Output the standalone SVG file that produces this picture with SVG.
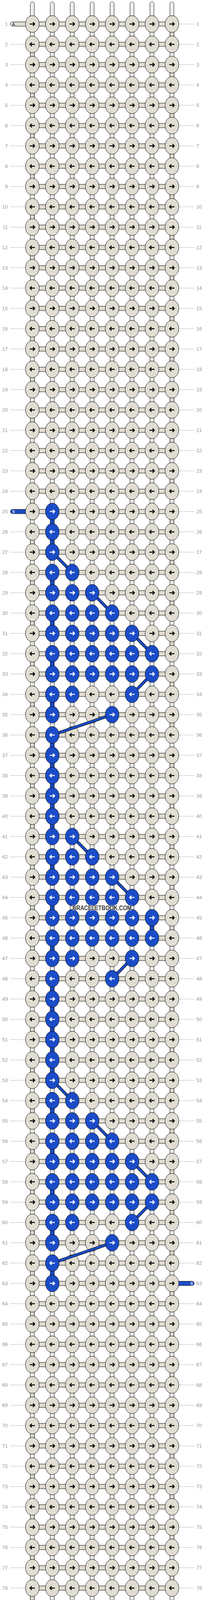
<svg xmlns="http://www.w3.org/2000/svg" xmlns:xlink="http://www.w3.org/1999/xlink" width="532" height="4596" viewBox="0 0 532 4596">
<style>
.kn{fill:#e1ddd3;stroke:#000;stroke-width:1}
.kb{fill:#1b4cc8;stroke:#000;stroke-width:1}
.ar{fill:none;stroke:#000;stroke-width:2.5}
.aw{fill:none;stroke:#fff;stroke-width:2.5}
.hc{fill:#e1ddd3;stroke:#000;stroke-width:1}
.bc{fill:#1b4cc8;stroke:#000;stroke-width:1}
.tube{fill:#fff;stroke:#000;stroke-width:1}
.core{fill:none;stroke:#b0b0b0;stroke-width:0.7}
.lb{font-family:"Liberation Sans",Arial,sans-serif;font-size:13px;fill:#9a9a9a}
.e{text-anchor:end}
.dgo{stroke:#000;stroke-width:7.5;fill:none}
.dgi{stroke:#1b4cc8;stroke-width:5.5;fill:none}
.tag{font-family:"Liberation Sans",Arial,sans-serif;font-size:10px}
.wm{font-family:"Liberation Sans",Arial,sans-serif;font-size:17px;font-weight:bold;fill:#3a3a3a;stroke:#fff;stroke-opacity:0.6;stroke-width:2.5;paint-order:stroke}
</style>
<defs>
<pattern id="gp" patternUnits="userSpaceOnUse" x="0" y="61" width="600" height="52"><rect width="600" height="1" fill="#bcbcbc"/></pattern>
<rect id="h" x="82.7" y="-5.5" width="357" height="11" class="hc"/>
<rect id="tr" x="434.7" y="0" width="10" height="52" class="hc"/>
<rect id="tl" x="77.7" y="0" width="10" height="52" class="hc"/>
<rect id="tb" x="128.7" y="0" width="10" height="52" class="bc"/>
<g id="R"><ellipse rx="17.5" ry="21.5" class="kn"/><path d="M-6.5,0H5.5M1.5,-4.5L6,0L1.5,4.5" class="ar"/></g>
<g id="L"><ellipse rx="17.5" ry="21.5" class="kn"/><path d="M6.5,0H-5.5M-1.5,-4.5L-6,0L-1.5,4.5" class="ar"/></g>
<g id="BR"><ellipse rx="17.5" ry="21.5" class="kb"/><path d="M-6.5,0H5.5M1.5,-4.5L6,0L1.5,4.5" class="aw"/></g>
<g id="BL"><ellipse rx="17.5" ry="21.5" class="kb"/><path d="M6.5,0H-5.5M-1.5,-4.5L-6,0L-1.5,4.5" class="aw"/></g>
</defs>
<rect width="532" height="4596" fill="#fff"/>
<g id="guides">
<rect x="26" y="55" width="39" height="4485" fill="url(#gp)"/>
<rect x="458" y="55" width="39" height="4485" fill="url(#gp)"/>
</g>
<g id="labels" class="lb">
<text x="20" y="66" class="e">1</text><text x="502" y="66">1</text>
<text x="20" y="118" class="e">2</text><text x="502" y="118">2</text>
<text x="20" y="170" class="e">3</text><text x="502" y="170">3</text>
<text x="20" y="222" class="e">4</text><text x="502" y="222">4</text>
<text x="20" y="274" class="e">5</text><text x="502" y="274">5</text>
<text x="20" y="326" class="e">6</text><text x="502" y="326">6</text>
<text x="20" y="378" class="e">7</text><text x="502" y="378">7</text>
<text x="20" y="430" class="e">8</text><text x="502" y="430">8</text>
<text x="20" y="482" class="e">9</text><text x="502" y="482">9</text>
<text x="20" y="534" class="e">10</text><text x="502" y="534">10</text>
<text x="20" y="586" class="e">11</text><text x="502" y="586">11</text>
<text x="20" y="638" class="e">12</text><text x="502" y="638">12</text>
<text x="20" y="690" class="e">13</text><text x="502" y="690">13</text>
<text x="20" y="742" class="e">14</text><text x="502" y="742">14</text>
<text x="20" y="794" class="e">15</text><text x="502" y="794">15</text>
<text x="20" y="846" class="e">16</text><text x="502" y="846">16</text>
<text x="20" y="898" class="e">17</text><text x="502" y="898">17</text>
<text x="20" y="950" class="e">18</text><text x="502" y="950">18</text>
<text x="20" y="1002" class="e">19</text><text x="502" y="1002">19</text>
<text x="20" y="1054" class="e">20</text><text x="502" y="1054">20</text>
<text x="20" y="1106" class="e">21</text><text x="502" y="1106">21</text>
<text x="20" y="1158" class="e">22</text><text x="502" y="1158">22</text>
<text x="20" y="1210" class="e">23</text><text x="502" y="1210">23</text>
<text x="20" y="1262" class="e">24</text><text x="502" y="1262">24</text>
<text x="20" y="1314" class="e">25</text><text x="502" y="1314">25</text>
<text x="20" y="1366" class="e">26</text><text x="502" y="1366">26</text>
<text x="20" y="1418" class="e">27</text><text x="502" y="1418">27</text>
<text x="20" y="1470" class="e">28</text><text x="502" y="1470">28</text>
<text x="20" y="1522" class="e">29</text><text x="502" y="1522">29</text>
<text x="20" y="1574" class="e">30</text><text x="502" y="1574">30</text>
<text x="20" y="1626" class="e">31</text><text x="502" y="1626">31</text>
<text x="20" y="1678" class="e">32</text><text x="502" y="1678">32</text>
<text x="20" y="1730" class="e">33</text><text x="502" y="1730">33</text>
<text x="20" y="1782" class="e">34</text><text x="502" y="1782">34</text>
<text x="20" y="1834" class="e">35</text><text x="502" y="1834">35</text>
<text x="20" y="1886" class="e">36</text><text x="502" y="1886">36</text>
<text x="20" y="1938" class="e">37</text><text x="502" y="1938">37</text>
<text x="20" y="1990" class="e">38</text><text x="502" y="1990">38</text>
<text x="20" y="2042" class="e">39</text><text x="502" y="2042">39</text>
<text x="20" y="2094" class="e">40</text><text x="502" y="2094">40</text>
<text x="20" y="2146" class="e">41</text><text x="502" y="2146">41</text>
<text x="20" y="2198" class="e">42</text><text x="502" y="2198">42</text>
<text x="20" y="2250" class="e">43</text><text x="502" y="2250">43</text>
<text x="20" y="2302" class="e">44</text><text x="502" y="2302">44</text>
<text x="20" y="2354" class="e">45</text><text x="502" y="2354">45</text>
<text x="20" y="2406" class="e">46</text><text x="502" y="2406">46</text>
<text x="20" y="2458" class="e">47</text><text x="502" y="2458">47</text>
<text x="20" y="2510" class="e">48</text><text x="502" y="2510">48</text>
<text x="20" y="2562" class="e">49</text><text x="502" y="2562">49</text>
<text x="20" y="2614" class="e">50</text><text x="502" y="2614">50</text>
<text x="20" y="2666" class="e">51</text><text x="502" y="2666">51</text>
<text x="20" y="2718" class="e">52</text><text x="502" y="2718">52</text>
<text x="20" y="2770" class="e">53</text><text x="502" y="2770">53</text>
<text x="20" y="2822" class="e">54</text><text x="502" y="2822">54</text>
<text x="20" y="2874" class="e">55</text><text x="502" y="2874">55</text>
<text x="20" y="2926" class="e">56</text><text x="502" y="2926">56</text>
<text x="20" y="2978" class="e">57</text><text x="502" y="2978">57</text>
<text x="20" y="3030" class="e">58</text><text x="502" y="3030">58</text>
<text x="20" y="3082" class="e">59</text><text x="502" y="3082">59</text>
<text x="20" y="3134" class="e">60</text><text x="502" y="3134">60</text>
<text x="20" y="3186" class="e">61</text><text x="502" y="3186">61</text>
<text x="20" y="3238" class="e">62</text><text x="502" y="3238">62</text>
<text x="20" y="3290" class="e">63</text><text x="502" y="3290">63</text>
<text x="20" y="3342" class="e">64</text><text x="502" y="3342">64</text>
<text x="20" y="3394" class="e">65</text><text x="502" y="3394">65</text>
<text x="20" y="3446" class="e">66</text><text x="502" y="3446">66</text>
<text x="20" y="3498" class="e">67</text><text x="502" y="3498">67</text>
<text x="20" y="3550" class="e">68</text><text x="502" y="3550">68</text>
<text x="20" y="3602" class="e">69</text><text x="502" y="3602">69</text>
<text x="20" y="3654" class="e">70</text><text x="502" y="3654">70</text>
<text x="20" y="3706" class="e">71</text><text x="502" y="3706">71</text>
<text x="20" y="3758" class="e">72</text><text x="502" y="3758">72</text>
<text x="20" y="3810" class="e">73</text><text x="502" y="3810">73</text>
<text x="20" y="3862" class="e">74</text><text x="502" y="3862">74</text>
<text x="20" y="3914" class="e">75</text><text x="502" y="3914">75</text>
<text x="20" y="3966" class="e">76</text><text x="502" y="3966">76</text>
<text x="20" y="4018" class="e">77</text><text x="502" y="4018">77</text>
<text x="20" y="4070" class="e">78</text><text x="502" y="4070">78</text>
<text x="20" y="4122" class="e">79</text><text x="502" y="4122">79</text>
<text x="20" y="4174" class="e">80</text><text x="502" y="4174">80</text>
<text x="20" y="4226" class="e">81</text><text x="502" y="4226">81</text>
<text x="20" y="4278" class="e">82</text><text x="502" y="4278">82</text>
<text x="20" y="4330" class="e">83</text><text x="502" y="4330">83</text>
<text x="20" y="4382" class="e">84</text><text x="502" y="4382">84</text>
<text x="20" y="4434" class="e">85</text><text x="502" y="4434">85</text>
<text x="20" y="4486" class="e">86</text><text x="502" y="4486">86</text>
<text x="20" y="4538" class="e">87</text><text x="502" y="4538">87</text>
</g>
<g id="connectors">
<g id="strings">
<rect x="77.7" y="4.7" width="10" height="4587" rx="5" class="tube"/><rect x="81.2" y="9" width="3" height="4578" class="core"/>
<rect x="128.7" y="4.7" width="10" height="4587" rx="5" class="tube"/><rect x="132.2" y="9" width="3" height="4578" class="core"/>
<rect x="179.7" y="4.7" width="10" height="4587" rx="5" class="tube"/><rect x="183.2" y="9" width="3" height="4578" class="core"/>
<rect x="230.7" y="4.7" width="10" height="4587" rx="5" class="tube"/><rect x="234.2" y="9" width="3" height="4578" class="core"/>
<rect x="281.7" y="4.7" width="10" height="4587" rx="5" class="tube"/><rect x="285.2" y="9" width="3" height="4578" class="core"/>
<rect x="332.7" y="4.7" width="10" height="4587" rx="5" class="tube"/><rect x="336.2" y="9" width="3" height="4578" class="core"/>
<rect x="383.7" y="4.7" width="10" height="4587" rx="5" class="tube"/><rect x="387.2" y="9" width="3" height="4578" class="core"/>
<rect x="434.7" y="4.7" width="10" height="4587" rx="5" class="tube"/><rect x="438.2" y="9" width="3" height="4578" class="core"/>
</g>
<g id="rows-h">
<use href="#h" y="61.5"/><use href="#h" y="113.5"/><use href="#h" y="165.5"/><use href="#h" y="217.5"/><use href="#h" y="269.5"/><use href="#h" y="321.5"/><use href="#h" y="373.5"/><use href="#h" y="425.5"/><use href="#h" y="477.5"/><use href="#h" y="529.5"/>
<use href="#h" y="581.5"/><use href="#h" y="633.5"/><use href="#h" y="685.5"/><use href="#h" y="737.5"/><use href="#h" y="789.5"/><use href="#h" y="841.5"/><use href="#h" y="893.5"/><use href="#h" y="945.5"/><use href="#h" y="997.5"/><use href="#h" y="1049.5"/>
<use href="#h" y="1101.5"/><use href="#h" y="1153.5"/><use href="#h" y="1205.5"/><use href="#h" y="1257.5"/><use href="#h" y="1309.5"/><use href="#h" y="1361.5"/><use href="#h" y="1413.5"/><use href="#h" y="1465.5"/><use href="#h" y="1517.5"/><use href="#h" y="1569.5"/>
<use href="#h" y="1621.5"/><use href="#h" y="1673.5"/><use href="#h" y="1725.5"/><use href="#h" y="1777.5"/><use href="#h" y="1829.5"/><use href="#h" y="1881.5"/><use href="#h" y="1933.5"/><use href="#h" y="1985.5"/><use href="#h" y="2037.5"/><use href="#h" y="2089.5"/>
<use href="#h" y="2141.5"/><use href="#h" y="2193.5"/><use href="#h" y="2245.5"/><use href="#h" y="2297.5"/><use href="#h" y="2349.5"/><use href="#h" y="2401.5"/><use href="#h" y="2453.5"/><use href="#h" y="2505.5"/><use href="#h" y="2557.5"/><use href="#h" y="2609.5"/>
<use href="#h" y="2661.5"/><use href="#h" y="2713.5"/><use href="#h" y="2765.5"/><use href="#h" y="2817.5"/><use href="#h" y="2869.5"/><use href="#h" y="2921.5"/><use href="#h" y="2973.5"/><use href="#h" y="3025.5"/><use href="#h" y="3077.5"/><use href="#h" y="3129.5"/>
<use href="#h" y="3181.5"/><use href="#h" y="3233.5"/><use href="#h" y="3285.5"/><use href="#h" y="3337.5"/><use href="#h" y="3389.5"/><use href="#h" y="3441.5"/><use href="#h" y="3493.5"/><use href="#h" y="3545.5"/><use href="#h" y="3597.5"/><use href="#h" y="3649.5"/>
<use href="#h" y="3701.5"/><use href="#h" y="3753.5"/><use href="#h" y="3805.5"/><use href="#h" y="3857.5"/><use href="#h" y="3909.5"/><use href="#h" y="3961.5"/><use href="#h" y="4013.5"/><use href="#h" y="4065.5"/><use href="#h" y="4117.5"/><use href="#h" y="4169.5"/>
<use href="#h" y="4221.5"/><use href="#h" y="4273.5"/><use href="#h" y="4325.5"/><use href="#h" y="4377.5"/><use href="#h" y="4429.5"/><use href="#h" y="4481.5"/><use href="#h" y="4533.5"/>
</g>
<g id="turns-a">
<use href="#tr" y="61.5"/><use href="#tr" y="165.5"/><use href="#tr" y="269.5"/><use href="#tr" y="373.5"/><use href="#tr" y="477.5"/><use href="#tr" y="581.5"/><use href="#tr" y="685.5"/><use href="#tr" y="789.5"/><use href="#tr" y="893.5"/><use href="#tr" y="997.5"/>
<use href="#tr" y="1101.5"/><use href="#tr" y="1205.5"/><use href="#tr" y="1309.5"/><use href="#tr" y="1413.5"/><use href="#tr" y="1517.5"/><use href="#tr" y="1621.5"/><use href="#tr" y="1725.5"/><use href="#tr" y="1829.5"/><use href="#tr" y="1933.5"/><use href="#tr" y="2037.5"/>
<use href="#tr" y="2141.5"/><use href="#tr" y="2245.5"/><use href="#tr" y="2349.5"/><use href="#tr" y="2453.5"/><use href="#tr" y="2557.5"/><use href="#tr" y="2661.5"/><use href="#tr" y="2765.5"/><use href="#tr" y="2869.5"/><use href="#tr" y="2973.5"/><use href="#tr" y="3077.5"/>
<use href="#tr" y="3181.5"/><use href="#tr" y="3285.5"/><use href="#tr" y="3389.5"/><use href="#tr" y="3493.5"/><use href="#tr" y="3597.5"/><use href="#tr" y="3701.5"/><use href="#tr" y="3805.5"/><use href="#tr" y="3909.5"/><use href="#tr" y="4013.5"/><use href="#tr" y="4117.5"/>
<use href="#tr" y="4221.5"/><use href="#tr" y="4325.5"/><use href="#tr" y="4429.5"/>
<use href="#tl" y="113.5"/><use href="#tl" y="217.5"/><use href="#tl" y="321.5"/><use href="#tl" y="425.5"/><use href="#tl" y="529.5"/><use href="#tl" y="633.5"/><use href="#tl" y="737.5"/><use href="#tl" y="841.5"/><use href="#tl" y="945.5"/><use href="#tl" y="1049.5"/>
<use href="#tl" y="1153.5"/><use href="#tl" y="1257.5"/><use href="#tl" y="1361.5"/><use href="#tl" y="1465.5"/><use href="#tl" y="1569.5"/><use href="#tl" y="1673.5"/><use href="#tl" y="1777.5"/><use href="#tl" y="1881.5"/><use href="#tl" y="1985.5"/><use href="#tl" y="2089.5"/>
<use href="#tl" y="2193.5"/><use href="#tl" y="2297.5"/><use href="#tl" y="2401.5"/><use href="#tl" y="2505.5"/><use href="#tl" y="2609.5"/><use href="#tl" y="2713.5"/><use href="#tl" y="2817.5"/><use href="#tl" y="2921.5"/><use href="#tl" y="3025.5"/><use href="#tl" y="3129.5"/>
<use href="#tl" y="3233.5"/><use href="#tl" y="3337.5"/><use href="#tl" y="3441.5"/><use href="#tl" y="3545.5"/><use href="#tl" y="3649.5"/><use href="#tl" y="3753.5"/><use href="#tl" y="3857.5"/><use href="#tl" y="3961.5"/><use href="#tl" y="4065.5"/><use href="#tl" y="4169.5"/>
<use href="#tl" y="4273.5"/><use href="#tl" y="4377.5"/><use href="#tl" y="4481.5"/>
</g>
<g id="turns-b">
<use href="#tb" y="1309.5"/><use href="#tb" y="1361.5"/><use href="#tb" y="1465.5"/><use href="#tb" y="1569.5"/><use href="#tb" y="1673.5"/><use href="#tb" y="1777.5"/>
<use href="#tb" y="1881.5"/><use href="#tb" y="1933.5"/><use href="#tb" y="1985.5"/><use href="#tb" y="2037.5"/><use href="#tb" y="2089.5"/>
<use href="#tb" y="2193.5"/><use href="#tb" y="2297.5"/><use href="#tb" y="2401.5"/>
<use href="#tb" y="2505.5"/><use href="#tb" y="2557.5"/><use href="#tb" y="2609.5"/><use href="#tb" y="2661.5"/><use href="#tb" y="2713.5"/>
<use href="#tb" y="2817.5"/><use href="#tb" y="2921.5"/><use href="#tb" y="3025.5"/><use href="#tb" y="3129.5"/><use href="#tb" y="3233.5"/>
<rect x="383.7" y="2349.5" width="10" height="52" class="bc"/>
</g>
<g id="ends">
<rect x="26.7" y="56" width="60" height="11" rx="5.5" class="hc"/><text x="31.5" y="65.5" class="tag" fill="#000">A</text>
<rect x="435.7" y="4528" width="61" height="11" rx="5.5" class="hc"/><text x="487" y="4537.5" class="tag" fill="#000">A</text>
<rect x="26.7" y="1304" width="60" height="11" rx="5.5" class="bc"/><text x="31.5" y="1313.5" class="tag" fill="#fff">B</text>
<rect x="435.7" y="3280" width="61" height="11" rx="5.5" class="bc"/><text x="487" y="3289.5" class="tag" fill="#fff">B</text>
</g>
</g>
<g id="knots">
<g id="row1" transform="translate(0,61.5)"><g id="n1_1"><use href="#R" x="82.7"/></g><g id="n1_2"><use href="#R" x="133.7"/></g><g id="n1_3"><use href="#R" x="184.7"/></g><g id="n1_4"><use href="#R" x="235.7"/></g><g id="n1_5"><use href="#R" x="286.7"/></g><g id="n1_6"><use href="#R" x="337.7"/></g><g id="n1_7"><use href="#R" x="388.7"/></g><g id="n1_8"><use href="#R" x="439.7"/></g></g>
<g id="row2" transform="translate(0,113.5)"><g id="n2_1"><use href="#L" x="82.7"/></g><g id="n2_2"><use href="#L" x="133.7"/></g><g id="n2_3"><use href="#L" x="184.7"/></g><g id="n2_4"><use href="#L" x="235.7"/></g><g id="n2_5"><use href="#L" x="286.7"/></g><g id="n2_6"><use href="#L" x="337.7"/></g><g id="n2_7"><use href="#L" x="388.7"/></g><g id="n2_8"><use href="#L" x="439.7"/></g></g>
<g id="row3" transform="translate(0,165.5)"><g id="n3_1"><use href="#R" x="82.7"/></g><g id="n3_2"><use href="#R" x="133.7"/></g><g id="n3_3"><use href="#R" x="184.7"/></g><g id="n3_4"><use href="#R" x="235.7"/></g><g id="n3_5"><use href="#R" x="286.7"/></g><g id="n3_6"><use href="#R" x="337.7"/></g><g id="n3_7"><use href="#R" x="388.7"/></g><g id="n3_8"><use href="#R" x="439.7"/></g></g>
<g id="row4" transform="translate(0,217.5)"><g id="n4_1"><use href="#L" x="82.7"/></g><g id="n4_2"><use href="#L" x="133.7"/></g><g id="n4_3"><use href="#L" x="184.7"/></g><g id="n4_4"><use href="#L" x="235.7"/></g><g id="n4_5"><use href="#L" x="286.7"/></g><g id="n4_6"><use href="#L" x="337.7"/></g><g id="n4_7"><use href="#L" x="388.7"/></g><g id="n4_8"><use href="#L" x="439.7"/></g></g>
<g id="row5" transform="translate(0,269.5)"><g id="n5_1"><use href="#R" x="82.7"/></g><g id="n5_2"><use href="#R" x="133.7"/></g><g id="n5_3"><use href="#R" x="184.7"/></g><g id="n5_4"><use href="#R" x="235.7"/></g><g id="n5_5"><use href="#R" x="286.7"/></g><g id="n5_6"><use href="#R" x="337.7"/></g><g id="n5_7"><use href="#R" x="388.7"/></g><g id="n5_8"><use href="#R" x="439.7"/></g></g>
<g id="row6" transform="translate(0,321.5)"><g id="n6_1"><use href="#L" x="82.7"/></g><g id="n6_2"><use href="#L" x="133.7"/></g><g id="n6_3"><use href="#L" x="184.7"/></g><g id="n6_4"><use href="#L" x="235.7"/></g><g id="n6_5"><use href="#L" x="286.7"/></g><g id="n6_6"><use href="#L" x="337.7"/></g><g id="n6_7"><use href="#L" x="388.7"/></g><g id="n6_8"><use href="#L" x="439.7"/></g></g>
<g id="row7" transform="translate(0,373.5)"><g id="n7_1"><use href="#R" x="82.7"/></g><g id="n7_2"><use href="#R" x="133.7"/></g><g id="n7_3"><use href="#R" x="184.7"/></g><g id="n7_4"><use href="#R" x="235.7"/></g><g id="n7_5"><use href="#R" x="286.7"/></g><g id="n7_6"><use href="#R" x="337.7"/></g><g id="n7_7"><use href="#R" x="388.7"/></g><g id="n7_8"><use href="#R" x="439.7"/></g></g>
<g id="row8" transform="translate(0,425.5)"><g id="n8_1"><use href="#L" x="82.7"/></g><g id="n8_2"><use href="#L" x="133.7"/></g><g id="n8_3"><use href="#L" x="184.7"/></g><g id="n8_4"><use href="#L" x="235.7"/></g><g id="n8_5"><use href="#L" x="286.7"/></g><g id="n8_6"><use href="#L" x="337.7"/></g><g id="n8_7"><use href="#L" x="388.7"/></g><g id="n8_8"><use href="#L" x="439.7"/></g></g>
<g id="row9" transform="translate(0,477.5)"><g id="n9_1"><use href="#R" x="82.7"/></g><g id="n9_2"><use href="#R" x="133.7"/></g><g id="n9_3"><use href="#R" x="184.7"/></g><g id="n9_4"><use href="#R" x="235.7"/></g><g id="n9_5"><use href="#R" x="286.7"/></g><g id="n9_6"><use href="#R" x="337.7"/></g><g id="n9_7"><use href="#R" x="388.7"/></g><g id="n9_8"><use href="#R" x="439.7"/></g></g>
<g id="row10" transform="translate(0,529.5)"><g id="n10_1"><use href="#L" x="82.7"/></g><g id="n10_2"><use href="#L" x="133.7"/></g><g id="n10_3"><use href="#L" x="184.7"/></g><g id="n10_4"><use href="#L" x="235.7"/></g><g id="n10_5"><use href="#L" x="286.7"/></g><g id="n10_6"><use href="#L" x="337.7"/></g><g id="n10_7"><use href="#L" x="388.7"/></g><g id="n10_8"><use href="#L" x="439.7"/></g></g>
<g id="row11" transform="translate(0,581.5)"><g id="n11_1"><use href="#R" x="82.7"/></g><g id="n11_2"><use href="#R" x="133.7"/></g><g id="n11_3"><use href="#R" x="184.7"/></g><g id="n11_4"><use href="#R" x="235.7"/></g><g id="n11_5"><use href="#R" x="286.7"/></g><g id="n11_6"><use href="#R" x="337.7"/></g><g id="n11_7"><use href="#R" x="388.7"/></g><g id="n11_8"><use href="#R" x="439.7"/></g></g>
<g id="row12" transform="translate(0,633.5)"><g id="n12_1"><use href="#L" x="82.7"/></g><g id="n12_2"><use href="#L" x="133.7"/></g><g id="n12_3"><use href="#L" x="184.7"/></g><g id="n12_4"><use href="#L" x="235.7"/></g><g id="n12_5"><use href="#L" x="286.7"/></g><g id="n12_6"><use href="#L" x="337.7"/></g><g id="n12_7"><use href="#L" x="388.7"/></g><g id="n12_8"><use href="#L" x="439.7"/></g></g>
<g id="row13" transform="translate(0,685.5)"><g id="n13_1"><use href="#R" x="82.7"/></g><g id="n13_2"><use href="#R" x="133.7"/></g><g id="n13_3"><use href="#R" x="184.7"/></g><g id="n13_4"><use href="#R" x="235.7"/></g><g id="n13_5"><use href="#R" x="286.7"/></g><g id="n13_6"><use href="#R" x="337.7"/></g><g id="n13_7"><use href="#R" x="388.7"/></g><g id="n13_8"><use href="#R" x="439.7"/></g></g>
<g id="row14" transform="translate(0,737.5)"><g id="n14_1"><use href="#L" x="82.7"/></g><g id="n14_2"><use href="#L" x="133.7"/></g><g id="n14_3"><use href="#L" x="184.7"/></g><g id="n14_4"><use href="#L" x="235.7"/></g><g id="n14_5"><use href="#L" x="286.7"/></g><g id="n14_6"><use href="#L" x="337.7"/></g><g id="n14_7"><use href="#L" x="388.7"/></g><g id="n14_8"><use href="#L" x="439.7"/></g></g>
<g id="row15" transform="translate(0,789.5)"><g id="n15_1"><use href="#R" x="82.7"/></g><g id="n15_2"><use href="#R" x="133.7"/></g><g id="n15_3"><use href="#R" x="184.7"/></g><g id="n15_4"><use href="#R" x="235.7"/></g><g id="n15_5"><use href="#R" x="286.7"/></g><g id="n15_6"><use href="#R" x="337.7"/></g><g id="n15_7"><use href="#R" x="388.7"/></g><g id="n15_8"><use href="#R" x="439.7"/></g></g>
<g id="row16" transform="translate(0,841.5)"><g id="n16_1"><use href="#L" x="82.7"/></g><g id="n16_2"><use href="#L" x="133.7"/></g><g id="n16_3"><use href="#L" x="184.7"/></g><g id="n16_4"><use href="#L" x="235.7"/></g><g id="n16_5"><use href="#L" x="286.7"/></g><g id="n16_6"><use href="#L" x="337.7"/></g><g id="n16_7"><use href="#L" x="388.7"/></g><g id="n16_8"><use href="#L" x="439.7"/></g></g>
<g id="row17" transform="translate(0,893.5)"><g id="n17_1"><use href="#R" x="82.7"/></g><g id="n17_2"><use href="#R" x="133.7"/></g><g id="n17_3"><use href="#R" x="184.7"/></g><g id="n17_4"><use href="#R" x="235.7"/></g><g id="n17_5"><use href="#R" x="286.7"/></g><g id="n17_6"><use href="#R" x="337.7"/></g><g id="n17_7"><use href="#R" x="388.7"/></g><g id="n17_8"><use href="#R" x="439.7"/></g></g>
<g id="row18" transform="translate(0,945.5)"><g id="n18_1"><use href="#L" x="82.7"/></g><g id="n18_2"><use href="#L" x="133.7"/></g><g id="n18_3"><use href="#L" x="184.7"/></g><g id="n18_4"><use href="#L" x="235.7"/></g><g id="n18_5"><use href="#L" x="286.7"/></g><g id="n18_6"><use href="#L" x="337.7"/></g><g id="n18_7"><use href="#L" x="388.7"/></g><g id="n18_8"><use href="#L" x="439.7"/></g></g>
<g id="row19" transform="translate(0,997.5)"><g id="n19_1"><use href="#R" x="82.7"/></g><g id="n19_2"><use href="#R" x="133.7"/></g><g id="n19_3"><use href="#R" x="184.7"/></g><g id="n19_4"><use href="#R" x="235.7"/></g><g id="n19_5"><use href="#R" x="286.7"/></g><g id="n19_6"><use href="#R" x="337.7"/></g><g id="n19_7"><use href="#R" x="388.7"/></g><g id="n19_8"><use href="#R" x="439.7"/></g></g>
<g id="row20" transform="translate(0,1049.5)"><g id="n20_1"><use href="#L" x="82.7"/></g><g id="n20_2"><use href="#L" x="133.7"/></g><g id="n20_3"><use href="#L" x="184.7"/></g><g id="n20_4"><use href="#L" x="235.7"/></g><g id="n20_5"><use href="#L" x="286.7"/></g><g id="n20_6"><use href="#L" x="337.7"/></g><g id="n20_7"><use href="#L" x="388.7"/></g><g id="n20_8"><use href="#L" x="439.7"/></g></g>
<g id="row21" transform="translate(0,1101.5)"><g id="n21_1"><use href="#R" x="82.7"/></g><g id="n21_2"><use href="#R" x="133.7"/></g><g id="n21_3"><use href="#R" x="184.7"/></g><g id="n21_4"><use href="#R" x="235.7"/></g><g id="n21_5"><use href="#R" x="286.7"/></g><g id="n21_6"><use href="#R" x="337.7"/></g><g id="n21_7"><use href="#R" x="388.7"/></g><g id="n21_8"><use href="#R" x="439.7"/></g></g>
<g id="row22" transform="translate(0,1153.5)"><g id="n22_1"><use href="#L" x="82.7"/></g><g id="n22_2"><use href="#L" x="133.7"/></g><g id="n22_3"><use href="#L" x="184.7"/></g><g id="n22_4"><use href="#L" x="235.7"/></g><g id="n22_5"><use href="#L" x="286.7"/></g><g id="n22_6"><use href="#L" x="337.7"/></g><g id="n22_7"><use href="#L" x="388.7"/></g><g id="n22_8"><use href="#L" x="439.7"/></g></g>
<g id="row23" transform="translate(0,1205.5)"><g id="n23_1"><use href="#R" x="82.7"/></g><g id="n23_2"><use href="#R" x="133.7"/></g><g id="n23_3"><use href="#R" x="184.7"/></g><g id="n23_4"><use href="#R" x="235.7"/></g><g id="n23_5"><use href="#R" x="286.7"/></g><g id="n23_6"><use href="#R" x="337.7"/></g><g id="n23_7"><use href="#R" x="388.7"/></g><g id="n23_8"><use href="#R" x="439.7"/></g></g>
<g id="row24" transform="translate(0,1257.5)"><g id="n24_1"><use href="#L" x="82.7"/></g><g id="n24_2"><use href="#L" x="133.7"/></g><g id="n24_3"><use href="#L" x="184.7"/></g><g id="n24_4"><use href="#L" x="235.7"/></g><g id="n24_5"><use href="#L" x="286.7"/></g><g id="n24_6"><use href="#L" x="337.7"/></g><g id="n24_7"><use href="#L" x="388.7"/></g><g id="n24_8"><use href="#L" x="439.7"/></g></g>
<g id="row25" transform="translate(0,1309.5)"><g id="n25_1"><use href="#R" x="82.7"/></g><g id="n25_3"><use href="#R" x="184.7"/></g><g id="n25_4"><use href="#R" x="235.7"/></g><g id="n25_5"><use href="#R" x="286.7"/></g><g id="n25_6"><use href="#R" x="337.7"/></g><g id="n25_7"><use href="#R" x="388.7"/></g><g id="n25_8"><use href="#R" x="439.7"/></g></g>
<g id="row26" transform="translate(0,1361.5)"><g id="n26_1"><use href="#L" x="82.7"/></g><g id="n26_3"><use href="#L" x="184.7"/></g><g id="n26_4"><use href="#L" x="235.7"/></g><g id="n26_5"><use href="#L" x="286.7"/></g><g id="n26_6"><use href="#L" x="337.7"/></g><g id="n26_7"><use href="#L" x="388.7"/></g><g id="n26_8"><use href="#L" x="439.7"/></g></g>
<g id="row27" transform="translate(0,1413.5)"><g id="n27_1"><use href="#R" x="82.7"/></g><g id="n27_3"><use href="#R" x="184.7"/></g><g id="n27_4"><use href="#R" x="235.7"/></g><g id="n27_5"><use href="#R" x="286.7"/></g><g id="n27_6"><use href="#R" x="337.7"/></g><g id="n27_7"><use href="#R" x="388.7"/></g><g id="n27_8"><use href="#R" x="439.7"/></g></g>
<g id="row28" transform="translate(0,1465.5)"><g id="n28_1"><use href="#L" x="82.7"/></g><g id="n28_4"><use href="#L" x="235.7"/></g><g id="n28_5"><use href="#L" x="286.7"/></g><g id="n28_6"><use href="#L" x="337.7"/></g><g id="n28_7"><use href="#L" x="388.7"/></g><g id="n28_8"><use href="#L" x="439.7"/></g></g>
<g id="row29" transform="translate(0,1517.5)"><g id="n29_1"><use href="#R" x="82.7"/></g><g id="n29_5"><use href="#R" x="286.7"/></g><g id="n29_6"><use href="#R" x="337.7"/></g><g id="n29_7"><use href="#R" x="388.7"/></g><g id="n29_8"><use href="#R" x="439.7"/></g></g>
<g id="row30" transform="translate(0,1569.5)"><g id="n30_1"><use href="#L" x="82.7"/></g><g id="n30_6"><use href="#L" x="337.7"/></g><g id="n30_7"><use href="#L" x="388.7"/></g><g id="n30_8"><use href="#L" x="439.7"/></g></g>
<g id="row31" transform="translate(0,1621.5)"><g id="n31_1"><use href="#R" x="82.7"/></g><g id="n31_7"><use href="#R" x="388.7"/></g><g id="n31_8"><use href="#R" x="439.7"/></g></g>
<g id="row32" transform="translate(0,1673.5)"><g id="n32_1"><use href="#L" x="82.7"/></g><g id="n32_8"><use href="#L" x="439.7"/></g></g>
<g id="row33" transform="translate(0,1725.5)"><g id="n33_1"><use href="#R" x="82.7"/></g><g id="n33_8"><use href="#R" x="439.7"/></g></g>
<g id="row34" transform="translate(0,1777.5)"><g id="n34_1"><use href="#L" x="82.7"/></g><g id="n34_4"><use href="#L" x="235.7"/></g><g id="n34_5"><use href="#L" x="286.7"/></g><g id="n34_7"><use href="#L" x="388.7"/></g><g id="n34_8"><use href="#L" x="439.7"/></g></g>
<g id="row35" transform="translate(0,1829.5)"><g id="n35_1"><use href="#R" x="82.7"/></g><g id="n35_3"><use href="#R" x="184.7"/></g><g id="n35_4"><use href="#R" x="235.7"/></g><g id="n35_6"><use href="#R" x="337.7"/></g><g id="n35_7"><use href="#R" x="388.7"/></g><g id="n35_8"><use href="#R" x="439.7"/></g></g>
<g id="row36" transform="translate(0,1881.5)"><g id="n36_1"><use href="#L" x="82.7"/></g><g id="n36_3"><use href="#L" x="184.7"/></g><g id="n36_4"><use href="#L" x="235.7"/></g><g id="n36_5"><use href="#L" x="286.7"/></g><g id="n36_6"><use href="#L" x="337.7"/></g><g id="n36_7"><use href="#L" x="388.7"/></g><g id="n36_8"><use href="#L" x="439.7"/></g></g>
<g id="row37" transform="translate(0,1933.5)"><g id="n37_1"><use href="#R" x="82.7"/></g><g id="n37_3"><use href="#R" x="184.7"/></g><g id="n37_4"><use href="#R" x="235.7"/></g><g id="n37_5"><use href="#R" x="286.7"/></g><g id="n37_6"><use href="#R" x="337.7"/></g><g id="n37_7"><use href="#R" x="388.7"/></g><g id="n37_8"><use href="#R" x="439.7"/></g></g>
<g id="row38" transform="translate(0,1985.5)"><g id="n38_1"><use href="#L" x="82.7"/></g><g id="n38_3"><use href="#L" x="184.7"/></g><g id="n38_4"><use href="#L" x="235.7"/></g><g id="n38_5"><use href="#L" x="286.7"/></g><g id="n38_6"><use href="#L" x="337.7"/></g><g id="n38_7"><use href="#L" x="388.7"/></g><g id="n38_8"><use href="#L" x="439.7"/></g></g>
<g id="row39" transform="translate(0,2037.5)"><g id="n39_1"><use href="#R" x="82.7"/></g><g id="n39_3"><use href="#R" x="184.7"/></g><g id="n39_4"><use href="#R" x="235.7"/></g><g id="n39_5"><use href="#R" x="286.7"/></g><g id="n39_6"><use href="#R" x="337.7"/></g><g id="n39_7"><use href="#R" x="388.7"/></g><g id="n39_8"><use href="#R" x="439.7"/></g></g>
<g id="row40" transform="translate(0,2089.5)"><g id="n40_1"><use href="#L" x="82.7"/></g><g id="n40_3"><use href="#L" x="184.7"/></g><g id="n40_4"><use href="#L" x="235.7"/></g><g id="n40_5"><use href="#L" x="286.7"/></g><g id="n40_6"><use href="#L" x="337.7"/></g><g id="n40_7"><use href="#L" x="388.7"/></g><g id="n40_8"><use href="#L" x="439.7"/></g></g>
<g id="row41" transform="translate(0,2141.5)"><g id="n41_1"><use href="#R" x="82.7"/></g><g id="n41_4"><use href="#R" x="235.7"/></g><g id="n41_5"><use href="#R" x="286.7"/></g><g id="n41_6"><use href="#R" x="337.7"/></g><g id="n41_7"><use href="#R" x="388.7"/></g><g id="n41_8"><use href="#R" x="439.7"/></g></g>
<g id="row42" transform="translate(0,2193.5)"><g id="n42_1"><use href="#L" x="82.7"/></g><g id="n42_5"><use href="#L" x="286.7"/></g><g id="n42_6"><use href="#L" x="337.7"/></g><g id="n42_7"><use href="#L" x="388.7"/></g><g id="n42_8"><use href="#L" x="439.7"/></g></g>
<g id="row43" transform="translate(0,2245.5)"><g id="n43_1"><use href="#R" x="82.7"/></g><g id="n43_6"><use href="#R" x="337.7"/></g><g id="n43_7"><use href="#R" x="388.7"/></g><g id="n43_8"><use href="#R" x="439.7"/></g></g>
<g id="row44" transform="translate(0,2297.5)"><g id="n44_1"><use href="#L" x="82.7"/></g><g id="n44_7"><use href="#L" x="388.7"/></g><g id="n44_8"><use href="#L" x="439.7"/></g></g>
<g id="row45" transform="translate(0,2349.5)"><g id="n45_1"><use href="#R" x="82.7"/></g><g id="n45_8"><use href="#R" x="439.7"/></g></g>
<g id="row46" transform="translate(0,2401.5)"><g id="n46_1"><use href="#L" x="82.7"/></g><g id="n46_8"><use href="#L" x="439.7"/></g></g>
<g id="row47" transform="translate(0,2453.5)"><g id="n47_1"><use href="#R" x="82.7"/></g><g id="n47_4"><use href="#R" x="235.7"/></g><g id="n47_5"><use href="#R" x="286.7"/></g><g id="n47_7"><use href="#R" x="388.7"/></g><g id="n47_8"><use href="#R" x="439.7"/></g></g>
<g id="row48" transform="translate(0,2505.5)"><g id="n48_1"><use href="#L" x="82.7"/></g><g id="n48_3"><use href="#L" x="184.7"/></g><g id="n48_4"><use href="#L" x="235.7"/></g><g id="n48_6"><use href="#L" x="337.7"/></g><g id="n48_7"><use href="#L" x="388.7"/></g><g id="n48_8"><use href="#L" x="439.7"/></g></g>
<g id="row49" transform="translate(0,2557.5)"><g id="n49_1"><use href="#R" x="82.7"/></g><g id="n49_3"><use href="#R" x="184.7"/></g><g id="n49_4"><use href="#R" x="235.7"/></g><g id="n49_5"><use href="#R" x="286.7"/></g><g id="n49_6"><use href="#R" x="337.7"/></g><g id="n49_7"><use href="#R" x="388.7"/></g><g id="n49_8"><use href="#R" x="439.7"/></g></g>
<g id="row50" transform="translate(0,2609.5)"><g id="n50_1"><use href="#L" x="82.7"/></g><g id="n50_3"><use href="#L" x="184.7"/></g><g id="n50_4"><use href="#L" x="235.7"/></g><g id="n50_5"><use href="#L" x="286.7"/></g><g id="n50_6"><use href="#L" x="337.7"/></g><g id="n50_7"><use href="#L" x="388.7"/></g><g id="n50_8"><use href="#L" x="439.7"/></g></g>
<g id="row51" transform="translate(0,2661.5)"><g id="n51_1"><use href="#R" x="82.7"/></g><g id="n51_3"><use href="#R" x="184.7"/></g><g id="n51_4"><use href="#R" x="235.7"/></g><g id="n51_5"><use href="#R" x="286.7"/></g><g id="n51_6"><use href="#R" x="337.7"/></g><g id="n51_7"><use href="#R" x="388.7"/></g><g id="n51_8"><use href="#R" x="439.7"/></g></g>
<g id="row52" transform="translate(0,2713.5)"><g id="n52_1"><use href="#L" x="82.7"/></g><g id="n52_3"><use href="#L" x="184.7"/></g><g id="n52_4"><use href="#L" x="235.7"/></g><g id="n52_5"><use href="#L" x="286.7"/></g><g id="n52_6"><use href="#L" x="337.7"/></g><g id="n52_7"><use href="#L" x="388.7"/></g><g id="n52_8"><use href="#L" x="439.7"/></g></g>
<g id="row53" transform="translate(0,2765.5)"><g id="n53_1"><use href="#R" x="82.7"/></g><g id="n53_3"><use href="#R" x="184.7"/></g><g id="n53_4"><use href="#R" x="235.7"/></g><g id="n53_5"><use href="#R" x="286.7"/></g><g id="n53_6"><use href="#R" x="337.7"/></g><g id="n53_7"><use href="#R" x="388.7"/></g><g id="n53_8"><use href="#R" x="439.7"/></g></g>
<g id="row54" transform="translate(0,2817.5)"><g id="n54_1"><use href="#L" x="82.7"/></g><g id="n54_4"><use href="#L" x="235.7"/></g><g id="n54_5"><use href="#L" x="286.7"/></g><g id="n54_6"><use href="#L" x="337.7"/></g><g id="n54_7"><use href="#L" x="388.7"/></g><g id="n54_8"><use href="#L" x="439.7"/></g></g>
<g id="row55" transform="translate(0,2869.5)"><g id="n55_1"><use href="#R" x="82.7"/></g><g id="n55_5"><use href="#R" x="286.7"/></g><g id="n55_6"><use href="#R" x="337.7"/></g><g id="n55_7"><use href="#R" x="388.7"/></g><g id="n55_8"><use href="#R" x="439.7"/></g></g>
<g id="row56" transform="translate(0,2921.5)"><g id="n56_1"><use href="#L" x="82.7"/></g><g id="n56_6"><use href="#L" x="337.7"/></g><g id="n56_7"><use href="#L" x="388.7"/></g><g id="n56_8"><use href="#L" x="439.7"/></g></g>
<g id="row57" transform="translate(0,2973.5)"><g id="n57_1"><use href="#R" x="82.7"/></g><g id="n57_7"><use href="#R" x="388.7"/></g><g id="n57_8"><use href="#R" x="439.7"/></g></g>
<g id="row58" transform="translate(0,3025.5)"><g id="n58_1"><use href="#L" x="82.7"/></g><g id="n58_8"><use href="#L" x="439.7"/></g></g>
<g id="row59" transform="translate(0,3077.5)"><g id="n59_1"><use href="#R" x="82.7"/></g><g id="n59_8"><use href="#R" x="439.7"/></g></g>
<g id="row60" transform="translate(0,3129.5)"><g id="n60_1"><use href="#L" x="82.7"/></g><g id="n60_4"><use href="#L" x="235.7"/></g><g id="n60_5"><use href="#L" x="286.7"/></g><g id="n60_7"><use href="#L" x="388.7"/></g><g id="n60_8"><use href="#L" x="439.7"/></g></g>
<g id="row61" transform="translate(0,3181.5)"><g id="n61_1"><use href="#R" x="82.7"/></g><g id="n61_3"><use href="#R" x="184.7"/></g><g id="n61_4"><use href="#R" x="235.7"/></g><g id="n61_6"><use href="#R" x="337.7"/></g><g id="n61_7"><use href="#R" x="388.7"/></g><g id="n61_8"><use href="#R" x="439.7"/></g></g>
<g id="row62" transform="translate(0,3233.5)"><g id="n62_1"><use href="#L" x="82.7"/></g><g id="n62_3"><use href="#L" x="184.7"/></g><g id="n62_4"><use href="#L" x="235.7"/></g><g id="n62_5"><use href="#L" x="286.7"/></g><g id="n62_6"><use href="#L" x="337.7"/></g><g id="n62_7"><use href="#L" x="388.7"/></g><g id="n62_8"><use href="#L" x="439.7"/></g></g>
<g id="row63" transform="translate(0,3285.5)"><g id="n63_1"><use href="#R" x="82.7"/></g><g id="n63_3"><use href="#R" x="184.7"/></g><g id="n63_4"><use href="#R" x="235.7"/></g><g id="n63_5"><use href="#R" x="286.7"/></g><g id="n63_6"><use href="#R" x="337.7"/></g><g id="n63_7"><use href="#R" x="388.7"/></g><g id="n63_8"><use href="#R" x="439.7"/></g></g>
<g id="row64" transform="translate(0,3337.5)"><g id="n64_1"><use href="#L" x="82.7"/></g><g id="n64_2"><use href="#L" x="133.7"/></g><g id="n64_3"><use href="#L" x="184.7"/></g><g id="n64_4"><use href="#L" x="235.7"/></g><g id="n64_5"><use href="#L" x="286.7"/></g><g id="n64_6"><use href="#L" x="337.7"/></g><g id="n64_7"><use href="#L" x="388.7"/></g><g id="n64_8"><use href="#L" x="439.7"/></g></g>
<g id="row65" transform="translate(0,3389.5)"><g id="n65_1"><use href="#R" x="82.7"/></g><g id="n65_2"><use href="#R" x="133.7"/></g><g id="n65_3"><use href="#R" x="184.7"/></g><g id="n65_4"><use href="#R" x="235.7"/></g><g id="n65_5"><use href="#R" x="286.7"/></g><g id="n65_6"><use href="#R" x="337.7"/></g><g id="n65_7"><use href="#R" x="388.7"/></g><g id="n65_8"><use href="#R" x="439.7"/></g></g>
<g id="row66" transform="translate(0,3441.5)"><g id="n66_1"><use href="#L" x="82.7"/></g><g id="n66_2"><use href="#L" x="133.7"/></g><g id="n66_3"><use href="#L" x="184.7"/></g><g id="n66_4"><use href="#L" x="235.7"/></g><g id="n66_5"><use href="#L" x="286.7"/></g><g id="n66_6"><use href="#L" x="337.7"/></g><g id="n66_7"><use href="#L" x="388.7"/></g><g id="n66_8"><use href="#L" x="439.7"/></g></g>
<g id="row67" transform="translate(0,3493.5)"><g id="n67_1"><use href="#R" x="82.7"/></g><g id="n67_2"><use href="#R" x="133.7"/></g><g id="n67_3"><use href="#R" x="184.7"/></g><g id="n67_4"><use href="#R" x="235.7"/></g><g id="n67_5"><use href="#R" x="286.7"/></g><g id="n67_6"><use href="#R" x="337.7"/></g><g id="n67_7"><use href="#R" x="388.7"/></g><g id="n67_8"><use href="#R" x="439.7"/></g></g>
<g id="row68" transform="translate(0,3545.5)"><g id="n68_1"><use href="#L" x="82.7"/></g><g id="n68_2"><use href="#L" x="133.7"/></g><g id="n68_3"><use href="#L" x="184.7"/></g><g id="n68_4"><use href="#L" x="235.7"/></g><g id="n68_5"><use href="#L" x="286.7"/></g><g id="n68_6"><use href="#L" x="337.7"/></g><g id="n68_7"><use href="#L" x="388.7"/></g><g id="n68_8"><use href="#L" x="439.7"/></g></g>
<g id="row69" transform="translate(0,3597.5)"><g id="n69_1"><use href="#R" x="82.7"/></g><g id="n69_2"><use href="#R" x="133.7"/></g><g id="n69_3"><use href="#R" x="184.7"/></g><g id="n69_4"><use href="#R" x="235.7"/></g><g id="n69_5"><use href="#R" x="286.7"/></g><g id="n69_6"><use href="#R" x="337.7"/></g><g id="n69_7"><use href="#R" x="388.7"/></g><g id="n69_8"><use href="#R" x="439.7"/></g></g>
<g id="row70" transform="translate(0,3649.5)"><g id="n70_1"><use href="#L" x="82.7"/></g><g id="n70_2"><use href="#L" x="133.7"/></g><g id="n70_3"><use href="#L" x="184.7"/></g><g id="n70_4"><use href="#L" x="235.7"/></g><g id="n70_5"><use href="#L" x="286.7"/></g><g id="n70_6"><use href="#L" x="337.7"/></g><g id="n70_7"><use href="#L" x="388.7"/></g><g id="n70_8"><use href="#L" x="439.7"/></g></g>
<g id="row71" transform="translate(0,3701.5)"><g id="n71_1"><use href="#R" x="82.7"/></g><g id="n71_2"><use href="#R" x="133.7"/></g><g id="n71_3"><use href="#R" x="184.7"/></g><g id="n71_4"><use href="#R" x="235.7"/></g><g id="n71_5"><use href="#R" x="286.7"/></g><g id="n71_6"><use href="#R" x="337.7"/></g><g id="n71_7"><use href="#R" x="388.7"/></g><g id="n71_8"><use href="#R" x="439.7"/></g></g>
<g id="row72" transform="translate(0,3753.5)"><g id="n72_1"><use href="#L" x="82.7"/></g><g id="n72_2"><use href="#L" x="133.7"/></g><g id="n72_3"><use href="#L" x="184.7"/></g><g id="n72_4"><use href="#L" x="235.7"/></g><g id="n72_5"><use href="#L" x="286.7"/></g><g id="n72_6"><use href="#L" x="337.7"/></g><g id="n72_7"><use href="#L" x="388.7"/></g><g id="n72_8"><use href="#L" x="439.7"/></g></g>
<g id="row73" transform="translate(0,3805.5)"><g id="n73_1"><use href="#R" x="82.7"/></g><g id="n73_2"><use href="#R" x="133.7"/></g><g id="n73_3"><use href="#R" x="184.7"/></g><g id="n73_4"><use href="#R" x="235.7"/></g><g id="n73_5"><use href="#R" x="286.7"/></g><g id="n73_6"><use href="#R" x="337.7"/></g><g id="n73_7"><use href="#R" x="388.7"/></g><g id="n73_8"><use href="#R" x="439.7"/></g></g>
<g id="row74" transform="translate(0,3857.5)"><g id="n74_1"><use href="#L" x="82.7"/></g><g id="n74_2"><use href="#L" x="133.7"/></g><g id="n74_3"><use href="#L" x="184.7"/></g><g id="n74_4"><use href="#L" x="235.7"/></g><g id="n74_5"><use href="#L" x="286.7"/></g><g id="n74_6"><use href="#L" x="337.7"/></g><g id="n74_7"><use href="#L" x="388.7"/></g><g id="n74_8"><use href="#L" x="439.7"/></g></g>
<g id="row75" transform="translate(0,3909.5)"><g id="n75_1"><use href="#R" x="82.7"/></g><g id="n75_2"><use href="#R" x="133.7"/></g><g id="n75_3"><use href="#R" x="184.7"/></g><g id="n75_4"><use href="#R" x="235.7"/></g><g id="n75_5"><use href="#R" x="286.7"/></g><g id="n75_6"><use href="#R" x="337.7"/></g><g id="n75_7"><use href="#R" x="388.7"/></g><g id="n75_8"><use href="#R" x="439.7"/></g></g>
<g id="row76" transform="translate(0,3961.5)"><g id="n76_1"><use href="#L" x="82.7"/></g><g id="n76_2"><use href="#L" x="133.7"/></g><g id="n76_3"><use href="#L" x="184.7"/></g><g id="n76_4"><use href="#L" x="235.7"/></g><g id="n76_5"><use href="#L" x="286.7"/></g><g id="n76_6"><use href="#L" x="337.7"/></g><g id="n76_7"><use href="#L" x="388.7"/></g><g id="n76_8"><use href="#L" x="439.7"/></g></g>
<g id="row77" transform="translate(0,4013.5)"><g id="n77_1"><use href="#R" x="82.7"/></g><g id="n77_2"><use href="#R" x="133.7"/></g><g id="n77_3"><use href="#R" x="184.7"/></g><g id="n77_4"><use href="#R" x="235.7"/></g><g id="n77_5"><use href="#R" x="286.7"/></g><g id="n77_6"><use href="#R" x="337.7"/></g><g id="n77_7"><use href="#R" x="388.7"/></g><g id="n77_8"><use href="#R" x="439.7"/></g></g>
<g id="row78" transform="translate(0,4065.5)"><g id="n78_1"><use href="#L" x="82.7"/></g><g id="n78_2"><use href="#L" x="133.7"/></g><g id="n78_3"><use href="#L" x="184.7"/></g><g id="n78_4"><use href="#L" x="235.7"/></g><g id="n78_5"><use href="#L" x="286.7"/></g><g id="n78_6"><use href="#L" x="337.7"/></g><g id="n78_7"><use href="#L" x="388.7"/></g><g id="n78_8"><use href="#L" x="439.7"/></g></g>
<g id="row79" transform="translate(0,4117.5)"><g id="n79_1"><use href="#R" x="82.7"/></g><g id="n79_2"><use href="#R" x="133.7"/></g><g id="n79_3"><use href="#R" x="184.7"/></g><g id="n79_4"><use href="#R" x="235.7"/></g><g id="n79_5"><use href="#R" x="286.7"/></g><g id="n79_6"><use href="#R" x="337.7"/></g><g id="n79_7"><use href="#R" x="388.7"/></g><g id="n79_8"><use href="#R" x="439.7"/></g></g>
<g id="row80" transform="translate(0,4169.5)"><g id="n80_1"><use href="#L" x="82.7"/></g><g id="n80_2"><use href="#L" x="133.7"/></g><g id="n80_3"><use href="#L" x="184.7"/></g><g id="n80_4"><use href="#L" x="235.7"/></g><g id="n80_5"><use href="#L" x="286.7"/></g><g id="n80_6"><use href="#L" x="337.7"/></g><g id="n80_7"><use href="#L" x="388.7"/></g><g id="n80_8"><use href="#L" x="439.7"/></g></g>
<g id="row81" transform="translate(0,4221.5)"><g id="n81_1"><use href="#R" x="82.7"/></g><g id="n81_2"><use href="#R" x="133.7"/></g><g id="n81_3"><use href="#R" x="184.7"/></g><g id="n81_4"><use href="#R" x="235.7"/></g><g id="n81_5"><use href="#R" x="286.7"/></g><g id="n81_6"><use href="#R" x="337.7"/></g><g id="n81_7"><use href="#R" x="388.7"/></g><g id="n81_8"><use href="#R" x="439.7"/></g></g>
<g id="row82" transform="translate(0,4273.5)"><g id="n82_1"><use href="#L" x="82.7"/></g><g id="n82_2"><use href="#L" x="133.7"/></g><g id="n82_3"><use href="#L" x="184.7"/></g><g id="n82_4"><use href="#L" x="235.7"/></g><g id="n82_5"><use href="#L" x="286.7"/></g><g id="n82_6"><use href="#L" x="337.7"/></g><g id="n82_7"><use href="#L" x="388.7"/></g><g id="n82_8"><use href="#L" x="439.7"/></g></g>
<g id="row83" transform="translate(0,4325.5)"><g id="n83_1"><use href="#R" x="82.7"/></g><g id="n83_2"><use href="#R" x="133.7"/></g><g id="n83_3"><use href="#R" x="184.7"/></g><g id="n83_4"><use href="#R" x="235.7"/></g><g id="n83_5"><use href="#R" x="286.7"/></g><g id="n83_6"><use href="#R" x="337.7"/></g><g id="n83_7"><use href="#R" x="388.7"/></g><g id="n83_8"><use href="#R" x="439.7"/></g></g>
<g id="row84" transform="translate(0,4377.5)"><g id="n84_1"><use href="#L" x="82.7"/></g><g id="n84_2"><use href="#L" x="133.7"/></g><g id="n84_3"><use href="#L" x="184.7"/></g><g id="n84_4"><use href="#L" x="235.7"/></g><g id="n84_5"><use href="#L" x="286.7"/></g><g id="n84_6"><use href="#L" x="337.7"/></g><g id="n84_7"><use href="#L" x="388.7"/></g><g id="n84_8"><use href="#L" x="439.7"/></g></g>
<g id="row85" transform="translate(0,4429.5)"><g id="n85_1"><use href="#R" x="82.7"/></g><g id="n85_2"><use href="#R" x="133.7"/></g><g id="n85_3"><use href="#R" x="184.7"/></g><g id="n85_4"><use href="#R" x="235.7"/></g><g id="n85_5"><use href="#R" x="286.7"/></g><g id="n85_6"><use href="#R" x="337.7"/></g><g id="n85_7"><use href="#R" x="388.7"/></g><g id="n85_8"><use href="#R" x="439.7"/></g></g>
<g id="row86" transform="translate(0,4481.5)"><g id="n86_1"><use href="#L" x="82.7"/></g><g id="n86_2"><use href="#L" x="133.7"/></g><g id="n86_3"><use href="#L" x="184.7"/></g><g id="n86_4"><use href="#L" x="235.7"/></g><g id="n86_5"><use href="#L" x="286.7"/></g><g id="n86_6"><use href="#L" x="337.7"/></g><g id="n86_7"><use href="#L" x="388.7"/></g><g id="n86_8"><use href="#L" x="439.7"/></g></g>
<g id="row87" transform="translate(0,4533.5)"><g id="n87_1"><use href="#R" x="82.7"/></g><g id="n87_2"><use href="#R" x="133.7"/></g><g id="n87_3"><use href="#R" x="184.7"/></g><g id="n87_4"><use href="#R" x="235.7"/></g><g id="n87_5"><use href="#R" x="286.7"/></g><g id="n87_6"><use href="#R" x="337.7"/></g><g id="n87_7"><use href="#R" x="388.7"/></g><g id="n87_8"><use href="#R" x="439.7"/></g></g>
</g>
<g id="connectors-carried">
<g><line x1="133.7" y1="1413.5" x2="184.7" y2="1465.5" class="dgo"/><line x1="133.7" y1="1413.5" x2="184.7" y2="1465.5" class="dgi"/></g>
<g><line x1="235.7" y1="1517.5" x2="286.7" y2="1569.5" class="dgo"/><line x1="235.7" y1="1517.5" x2="286.7" y2="1569.5" class="dgi"/></g>
<g><line x1="337.7" y1="1621.5" x2="388.7" y2="1673.5" class="dgo"/><line x1="337.7" y1="1621.5" x2="388.7" y2="1673.5" class="dgi"/></g>
<g><line x1="388.7" y1="1725.5" x2="337.7" y2="1777.5" class="dgo"/><line x1="388.7" y1="1725.5" x2="337.7" y2="1777.5" class="dgi"/></g>
<g><line x1="286.7" y1="1829.5" x2="133.7" y2="1881.5" class="dgo"/><line x1="286.7" y1="1829.5" x2="133.7" y2="1881.5" class="dgi"/></g>
<g><line x1="184.7" y1="2141.5" x2="235.7" y2="2193.5" class="dgo"/><line x1="184.7" y1="2141.5" x2="235.7" y2="2193.5" class="dgi"/></g>
<g><line x1="286.7" y1="2245.5" x2="337.7" y2="2297.5" class="dgo"/><line x1="286.7" y1="2245.5" x2="337.7" y2="2297.5" class="dgi"/></g>
<g><line x1="337.7" y1="2453.5" x2="286.7" y2="2505.5" class="dgo"/><line x1="337.7" y1="2453.5" x2="286.7" y2="2505.5" class="dgi"/></g>
<g><line x1="133.7" y1="2765.5" x2="184.7" y2="2817.5" class="dgo"/><line x1="133.7" y1="2765.5" x2="184.7" y2="2817.5" class="dgi"/></g>
<g><line x1="235.7" y1="2869.5" x2="286.7" y2="2921.5" class="dgo"/><line x1="235.7" y1="2869.5" x2="286.7" y2="2921.5" class="dgi"/></g>
<g><line x1="337.7" y1="2973.5" x2="388.7" y2="3025.5" class="dgo"/><line x1="337.7" y1="2973.5" x2="388.7" y2="3025.5" class="dgi"/></g>
<g><line x1="388.7" y1="3077.5" x2="337.7" y2="3129.5" class="dgo"/><line x1="388.7" y1="3077.5" x2="337.7" y2="3129.5" class="dgi"/></g>
<g><line x1="286.7" y1="3181.5" x2="133.7" y2="3233.5" class="dgo"/><line x1="286.7" y1="3181.5" x2="133.7" y2="3233.5" class="dgi"/></g>
</g>
<g id="knots-b">
<g id="n25_2" transform="translate(133.7,1309.5)"><use href="#BR"/></g>
<g id="n26_2" transform="translate(133.7,1361.5)"><use href="#BL"/></g>
<g id="n27_2" transform="translate(133.7,1413.5)"><use href="#BR"/></g>
<g id="n28_2" transform="translate(133.7,1465.5)"><use href="#BL"/></g><g id="n28_3" transform="translate(184.7,1465.5)"><use href="#BL"/></g>
<g id="n29_2" transform="translate(133.7,1517.5)"><use href="#BR"/></g><g id="n29_3" transform="translate(184.7,1517.5)"><use href="#BR"/></g><g id="n29_4" transform="translate(235.7,1517.5)"><use href="#BR"/></g>
<g id="n30_2" transform="translate(133.7,1569.5)"><use href="#BL"/></g><g id="n30_3" transform="translate(184.7,1569.5)"><use href="#BL"/></g><g id="n30_4" transform="translate(235.7,1569.5)"><use href="#BL"/></g><g id="n30_5" transform="translate(286.7,1569.5)"><use href="#BL"/></g>
<g id="n31_2" transform="translate(133.7,1621.5)"><use href="#BR"/></g><g id="n31_3" transform="translate(184.7,1621.5)"><use href="#BR"/></g><g id="n31_4" transform="translate(235.7,1621.5)"><use href="#BR"/></g><g id="n31_5" transform="translate(286.7,1621.5)"><use href="#BR"/></g><g id="n31_6" transform="translate(337.7,1621.5)"><use href="#BR"/></g>
<g id="n32_2" transform="translate(133.7,1673.5)"><use href="#BL"/></g><g id="n32_3" transform="translate(184.7,1673.5)"><use href="#BL"/></g><g id="n32_4" transform="translate(235.7,1673.5)"><use href="#BL"/></g><g id="n32_5" transform="translate(286.7,1673.5)"><use href="#BL"/></g><g id="n32_6" transform="translate(337.7,1673.5)"><use href="#BL"/></g><g id="n32_7" transform="translate(388.7,1673.5)"><use href="#BL"/></g>
<g id="n33_2" transform="translate(133.7,1725.5)"><use href="#BR"/></g><g id="n33_3" transform="translate(184.7,1725.5)"><use href="#BR"/></g><g id="n33_4" transform="translate(235.7,1725.5)"><use href="#BR"/></g><g id="n33_5" transform="translate(286.7,1725.5)"><use href="#BR"/></g><g id="n33_6" transform="translate(337.7,1725.5)"><use href="#BR"/></g><g id="n33_7" transform="translate(388.7,1725.5)"><use href="#BR"/></g>
<g id="n34_2" transform="translate(133.7,1777.5)"><use href="#BL"/></g><g id="n34_3" transform="translate(184.7,1777.5)"><use href="#BL"/></g><g id="n34_6" transform="translate(337.7,1777.5)"><use href="#BL"/></g>
<g id="n35_2" transform="translate(133.7,1829.5)"><use href="#BR"/></g><g id="n35_5" transform="translate(286.7,1829.5)"><use href="#BR"/></g>
<g id="n36_2" transform="translate(133.7,1881.5)"><use href="#BL"/></g>
<g id="n37_2" transform="translate(133.7,1933.5)"><use href="#BR"/></g>
<g id="n38_2" transform="translate(133.7,1985.5)"><use href="#BL"/></g>
<g id="n39_2" transform="translate(133.7,2037.5)"><use href="#BR"/></g>
<g id="n40_2" transform="translate(133.7,2089.5)"><use href="#BL"/></g>
<g id="n41_2" transform="translate(133.7,2141.5)"><use href="#BR"/></g><g id="n41_3" transform="translate(184.7,2141.5)"><use href="#BR"/></g>
<g id="n42_2" transform="translate(133.7,2193.5)"><use href="#BL"/></g><g id="n42_3" transform="translate(184.7,2193.5)"><use href="#BL"/></g><g id="n42_4" transform="translate(235.7,2193.5)"><use href="#BL"/></g>
<g id="n43_2" transform="translate(133.7,2245.5)"><use href="#BR"/></g><g id="n43_3" transform="translate(184.7,2245.5)"><use href="#BR"/></g><g id="n43_4" transform="translate(235.7,2245.5)"><use href="#BR"/></g><g id="n43_5" transform="translate(286.7,2245.5)"><use href="#BR"/></g>
<g id="n44_2" transform="translate(133.7,2297.5)"><use href="#BL"/></g><g id="n44_3" transform="translate(184.7,2297.5)"><use href="#BL"/></g><g id="n44_4" transform="translate(235.7,2297.5)"><use href="#BL"/></g><g id="n44_5" transform="translate(286.7,2297.5)"><use href="#BL"/></g><g id="n44_6" transform="translate(337.7,2297.5)"><use href="#BL"/></g>
<g id="n45_2" transform="translate(133.7,2349.5)"><use href="#BR"/></g><g id="n45_3" transform="translate(184.7,2349.5)"><use href="#BR"/></g><g id="n45_4" transform="translate(235.7,2349.5)"><use href="#BR"/></g><g id="n45_5" transform="translate(286.7,2349.5)"><use href="#BR"/></g><g id="n45_6" transform="translate(337.7,2349.5)"><use href="#BR"/></g><g id="n45_7" transform="translate(388.7,2349.5)"><use href="#BR"/></g>
<g id="n46_2" transform="translate(133.7,2401.5)"><use href="#BL"/></g><g id="n46_3" transform="translate(184.7,2401.5)"><use href="#BL"/></g><g id="n46_4" transform="translate(235.7,2401.5)"><use href="#BL"/></g><g id="n46_5" transform="translate(286.7,2401.5)"><use href="#BL"/></g><g id="n46_6" transform="translate(337.7,2401.5)"><use href="#BL"/></g><g id="n46_7" transform="translate(388.7,2401.5)"><use href="#BL"/></g>
<g id="n47_2" transform="translate(133.7,2453.5)"><use href="#BR"/></g><g id="n47_3" transform="translate(184.7,2453.5)"><use href="#BR"/></g><g id="n47_6" transform="translate(337.7,2453.5)"><use href="#BR"/></g>
<g id="n48_2" transform="translate(133.7,2505.5)"><use href="#BL"/></g><g id="n48_5" transform="translate(286.7,2505.5)"><use href="#BL"/></g>
<g id="n49_2" transform="translate(133.7,2557.5)"><use href="#BR"/></g>
<g id="n50_2" transform="translate(133.7,2609.5)"><use href="#BL"/></g>
<g id="n51_2" transform="translate(133.7,2661.5)"><use href="#BR"/></g>
<g id="n52_2" transform="translate(133.7,2713.5)"><use href="#BL"/></g>
<g id="n53_2" transform="translate(133.7,2765.5)"><use href="#BR"/></g>
<g id="n54_2" transform="translate(133.7,2817.5)"><use href="#BL"/></g><g id="n54_3" transform="translate(184.7,2817.5)"><use href="#BL"/></g>
<g id="n55_2" transform="translate(133.7,2869.5)"><use href="#BR"/></g><g id="n55_3" transform="translate(184.7,2869.5)"><use href="#BR"/></g><g id="n55_4" transform="translate(235.7,2869.5)"><use href="#BR"/></g>
<g id="n56_2" transform="translate(133.7,2921.5)"><use href="#BL"/></g><g id="n56_3" transform="translate(184.7,2921.5)"><use href="#BL"/></g><g id="n56_4" transform="translate(235.7,2921.5)"><use href="#BL"/></g><g id="n56_5" transform="translate(286.7,2921.5)"><use href="#BL"/></g>
<g id="n57_2" transform="translate(133.7,2973.5)"><use href="#BR"/></g><g id="n57_3" transform="translate(184.7,2973.5)"><use href="#BR"/></g><g id="n57_4" transform="translate(235.7,2973.5)"><use href="#BR"/></g><g id="n57_5" transform="translate(286.7,2973.5)"><use href="#BR"/></g><g id="n57_6" transform="translate(337.7,2973.5)"><use href="#BR"/></g>
<g id="n58_2" transform="translate(133.7,3025.5)"><use href="#BL"/></g><g id="n58_3" transform="translate(184.7,3025.5)"><use href="#BL"/></g><g id="n58_4" transform="translate(235.7,3025.5)"><use href="#BL"/></g><g id="n58_5" transform="translate(286.7,3025.5)"><use href="#BL"/></g><g id="n58_6" transform="translate(337.7,3025.5)"><use href="#BL"/></g><g id="n58_7" transform="translate(388.7,3025.5)"><use href="#BL"/></g>
<g id="n59_2" transform="translate(133.7,3077.5)"><use href="#BR"/></g><g id="n59_3" transform="translate(184.7,3077.5)"><use href="#BR"/></g><g id="n59_4" transform="translate(235.7,3077.5)"><use href="#BR"/></g><g id="n59_5" transform="translate(286.7,3077.5)"><use href="#BR"/></g><g id="n59_6" transform="translate(337.7,3077.5)"><use href="#BR"/></g><g id="n59_7" transform="translate(388.7,3077.5)"><use href="#BR"/></g>
<g id="n60_2" transform="translate(133.7,3129.5)"><use href="#BL"/></g><g id="n60_3" transform="translate(184.7,3129.5)"><use href="#BL"/></g><g id="n60_6" transform="translate(337.7,3129.5)"><use href="#BL"/></g>
<g id="n61_2" transform="translate(133.7,3181.5)"><use href="#BR"/></g><g id="n61_5" transform="translate(286.7,3181.5)"><use href="#BR"/></g>
<g id="n62_2" transform="translate(133.7,3233.5)"><use href="#BL"/></g>
<g id="n63_2" transform="translate(133.7,3285.5)"><use href="#BR"/></g>
</g>
<text x="261" y="2329.5" text-anchor="middle" textLength="151" lengthAdjust="spacingAndGlyphs" class="wm">BRACELETBOOK.COM</text>
</svg>
